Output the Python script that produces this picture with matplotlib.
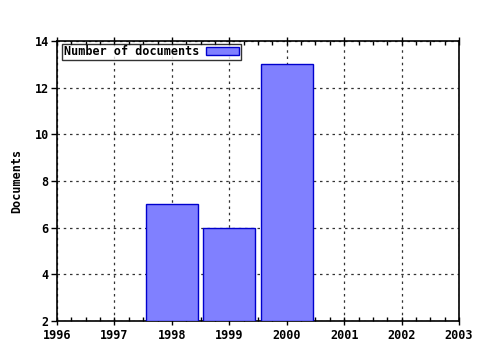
import matplotlib
matplotlib.use("Agg")
import matplotlib.pyplot as plt
from matplotlib.ticker import MultipleLocator

years = [1998, 1999, 2000]
documents = [7, 6, 13]
xticks = [1996, 1997, 1998, 1999, 2000, 2001, 2002, 2003]
yticks = [2, 4, 6, 8, 10, 12, 14]

plt.rcParams['font.family'] = ['DejaVu Sans Mono']
plt.rcParams['font.weight'] = 'bold'

fig = plt.figure(figsize=(4.8, 3.5), dpi=100)
ax = fig.add_axes([57/480, 1-321/350, (459-57)/480, (321-41)/350])

ax.bar(years, [d - 2 for d in documents], bottom=2, width=0.9,
       color='#8080ff', edgecolor='#0000cc', linewidth=1.0,
       label='Number of documents', zorder=3)

ax.set_xlim(1996, 2003)
ax.set_ylim(2, 14)
ax.set_xticks(xticks)
ax.set_yticks(yticks)
ax.xaxis.set_minor_locator(MultipleLocator(0.25))
ax.tick_params(axis='x', which='major', direction='inout', length=6, width=1, labelsize=8.5, pad=3, top=True)
ax.tick_params(axis='x', which='minor', direction='in', length=3, width=1, top=True)
ax.tick_params(axis='y', which='major', direction='out', length=4, width=1, labelsize=8.5, pad=2)
for lab in ax.get_xticklabels() + ax.get_yticklabels():
    lab.set_fontweight('bold')

ax.grid(True, which='major', linestyle=(0, (2, 3)), color='#333333', linewidth=0.9, zorder=1)
ax.set_axisbelow(True)
for s in ax.spines.values():
    s.set_linewidth(1.2)
    s.set_color('black')

ax.set_ylabel('Documents', fontsize=8.5, fontweight='bold', labelpad=8)

leg = ax.legend(loc='upper left', bbox_to_anchor=(0.01, 0.995), frameon=True, fancybox=False,
                prop={'size': 8.5, 'weight': 'bold'}, markerfirst=False,
                handlelength=2.8, handleheight=0.6, borderpad=0.15, borderaxespad=0.1,
                handletextpad=0.6)
leg.get_frame().set_edgecolor('black')
leg.get_frame().set_linewidth(1.0)

fig.savefig('out.png', dpi=100)
